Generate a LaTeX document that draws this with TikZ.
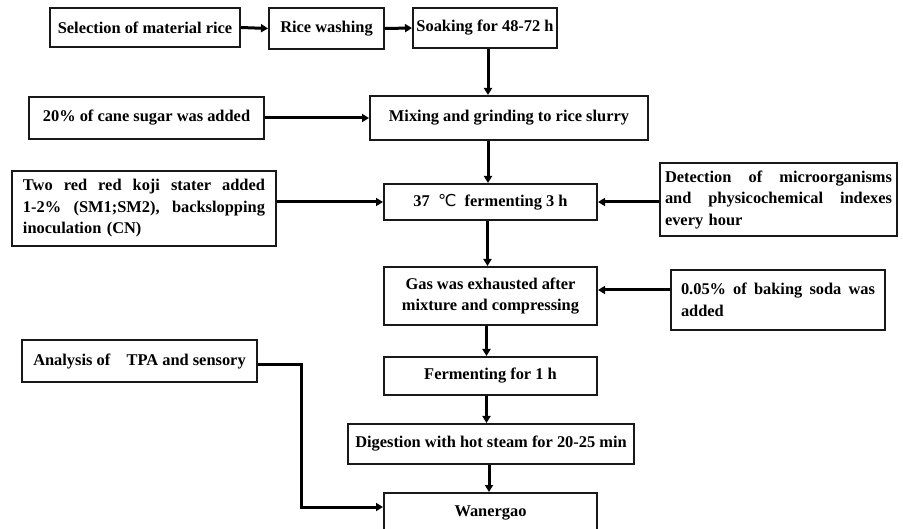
\documentclass[tikz,border=0pt]{standalone}
\usepackage{fontspec}
\setmainfont{Liberation Serif}
\newfontfamily\dejavu{DejaVu Sans}
\usetikzlibrary{arrows.meta}
\begin{document}
\begin{tikzpicture}[x=1pt,y=-1pt,
  box/.style={draw=black!90, line width=2pt, inner sep=0pt, font=\bfseries\fontsize{16.4}{21.5}\selectfont, align=center},
  jbox/.style={box, align=left},
  arr/.style={line width=3pt, -{Triangle[length=7pt,width=8pt]}}]
\useasboundingbox (0,0) rectangle (903,529);
\node[box, minimum width=190pt, minimum height=39pt] (b1) at (145,27.5) {Selection of material rice};
\node[box, minimum width=115pt, minimum height=41pt] (b2) at (326.5,28.5) {Rice washing};
\node[box, minimum width=144pt, minimum height=40pt] (b3) at (485,28) {Soaking for 48-72 h};
\node[box, minimum width=235pt, minimum height=42pt] (sugar) at (146.5,118) {20\% of cane sugar was added};
\node[box, minimum width=278pt, minimum height=44pt] (mix) at (509,118) {Mixing and grinding to rice slurry};
\node[jbox, text width=242pt, minimum width=264pt, minimum height=75pt] (koji) at (144,208.5)
  {Two\hfill red\hfill red\hfill koji\hfill stater\hfill added\\1-2\%\hfill (SM1;SM2),\hfill backslopping\\inoculation (CN)};
\node[box, minimum width=213pt, minimum height=36pt] (f37) at (490.5,202) {37\ \ {\mdseries\dejavu ℃}\ \ fermenting 3 h};
\node[jbox, text width=227pt, minimum width=237pt, minimum height=73pt] (det) at (778.5,199.5)
  {Detection\hfill of\hfill microorganisms\\and\hfill physicochemical\hfill indexes\\every hour};
\node[box, minimum width=213pt, minimum height=58pt] (gas) at (490.5,296) {Gas was exhausted after\\mixture and compressing};
\node[jbox, text width=194pt, minimum width=214pt, minimum height=60pt] (soda) at (778,300)
  {0.05\%\hfill of\hfill baking\hfill soda\hfill was\\added\\[-2pt]};
\node[box, minimum width=235pt, minimum height=42pt] (ana) at (139.5,361) {Analysis of\quad TPA and sensory};
\node[box, minimum width=213pt, minimum height=38pt] (f1) at (490.5,376) {Fermenting for 1 h};
\node[box, minimum width=286pt, minimum height=40pt] (dig) at (491,444) {Digestion with hot steam for 20-25 min};
\node[box, minimum width=213pt, minimum height=40pt] (wan) at (490.5,513) {Wanergao};
\draw[arr] (b1.east) -- (b2.west);
\draw[arr] (b2.east) -- (b3.west);
\draw[arr] ([xshift=3pt]b3.south) -- ([xshift=3pt]b3.south |- mix.north);
\draw[arr] (sugar.east) -- (mix.west);
\draw[arr] ([xshift=-21pt]mix.south) -- ([xshift=-21pt]mix.south |- f37.north);
\draw[arr] (koji.east |- f37.west) -- (f37.west);
\draw[arr] (det.west |- f37.east) -- (f37.east);
\draw[arr] ([xshift=-3pt]f37.south) -- ([xshift=-3pt]gas.north);
\draw[arr] ([yshift=6pt]soda.west |- gas.east) -- ([yshift=6pt]gas.east);
\draw[arr] ([xshift=-4pt]gas.south) -- ([xshift=-4pt]f1.north);
\draw[arr] ([xshift=-4pt]f1.south) -- ([xshift=-4pt]f1.south |- dig.north);
\draw[arr] ([xshift=-2pt]dig.south) -- ([xshift=-1.5pt]wan.north);
\draw[arr] ([yshift=-4pt]ana.east) -- ++(43,0) |- ([yshift=6pt]wan.west);
\end{tikzpicture}
\end{document}
